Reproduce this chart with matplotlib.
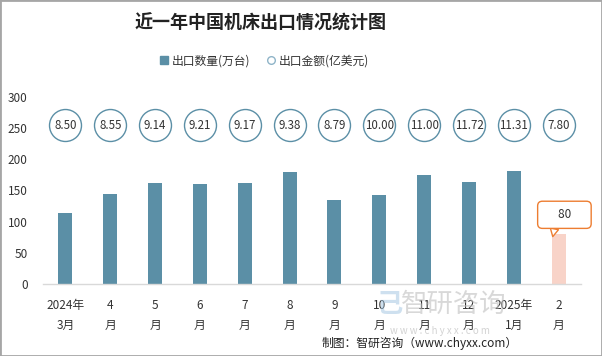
import matplotlib
matplotlib.use("Agg")
import matplotlib.pyplot as plt
import numpy as np

plt.rcParams['font.family'] = ['Noto Sans CJK SC', 'DejaVu Sans']

categories = ["2024年\n3月", "4\n月", "5\n月", "6\n月", "7\n月", "8\n月", "9\n月",
              "10\n月", "11\n月", "12\n月", "2025年\n1月", "2\n月"]
quantity = [114, 145, 162, 160, 162, 180, 135, 143, 175, 164, 181, 80]
amount = [8.50, 8.55, 9.14, 9.21, 9.17, 9.38, 8.79, 10.00, 11.00, 11.72, 11.31, 7.80]
yticks = [0, 50, 100, 150, 200, 250, 300]

BAR = '#5B8FA6'
PINK = '#F8D3C8'
ORANGE = '#ED7D31'
CIRC = '#5B8FA6'
TXT = '#333333'

fig = plt.figure(figsize=(6.02, 3.56), dpi=100)
ax = fig.add_axes([43/602, 1-284/356, 538/602, 187/356])

x = np.arange(len(categories))
colors = [BAR]*(len(x)-1) + [PINK]
ax.bar(x, quantity, width=0.31, color=colors, zorder=2)

circle_y = 255
ax.scatter(x, [circle_y]*len(x), s=530, facecolors='white', edgecolors=CIRC, linewidths=1.0, zorder=3)
for xi, v in zip(x, amount):
    ax.text(xi, circle_y, f"{v:.2f}", ha='center', va='center', fontsize=8.3, color=TXT, zorder=4)

# callout for last bar
ax.annotate("     80     ", xy=(10.87, quantity[-1] - 4), xytext=(11.13, 111),
            ha='center', va='center', fontsize=8.5, color=TXT,
            bbox=dict(boxstyle='round,pad=0.6,rounding_size=0.4', fc='white', ec=ORANGE, lw=1),
            arrowprops=dict(arrowstyle='wedge,tail_width=0.7', fc='white', ec=ORANGE, lw=1,
                            relpos=(0.3, 0.2), shrinkA=0, shrinkB=0),
            zorder=5, annotation_clip=False)

ax.set_xlim(-0.5, 11.5)
ax.set_ylim(0, 300)
ax.set_yticks(yticks)
ax.set_xticks(x)
ax.set_xticklabels(categories, fontsize=8.5, color=TXT, linespacing=1.65)
ax.tick_params(axis='y', length=0, pad=11, labelsize=8.5, labelcolor=TXT)
ax.tick_params(axis='x', length=0, pad=11)
for s in ['top', 'right', 'left']:
    ax.spines[s].set_visible(False)
ax.spines['bottom'].set_color('#D9D9D9')
ax.spines['bottom'].set_linewidth(1)

# title
fig.text(261/602, 1-23/356, "近一年中国机床出口情况统计图", ha='center', va='center',
         fontsize=13, fontweight='bold', color='#222222')

# legend
from matplotlib.lines import Line2D
h1 = Line2D([], [], marker='s', color='none', markerfacecolor=BAR, markeredgecolor=BAR, markersize=6)
h2 = Line2D([], [], marker='o', color='none', markerfacecolor='white', markeredgecolor='#8FB4C8', markersize=5.5)
fig.legend([h1, h2], ["出口数量(万台)", "出口金额(亿美元)"], loc='center',
           bbox_to_anchor=(264/602, 1-61/356), ncol=2, frameon=False, fontsize=8.5,
           handlelength=0.8, handletextpad=0.3, columnspacing=1.3, labelcolor=TXT)

# watermark
fig.text(506/602, 1-304/356, "智研咨询", ha='right', va='center', fontsize=19,
         color='#BFBFBF', alpha=0.6, zorder=0)
fig.text(390/602, 1-304/356, "己", ha='center', va='center', fontsize=19, fontweight='bold',
         color='#9EC3E0', alpha=0.5, zorder=0)
fig.text(440/602, 1-331/356, "w w w . c h y x x . c o m", ha='center', va='center', fontsize=7,
         color='#C8C8C8', alpha=0.8, zorder=0)

# footer
fig.text(518/602, 1-343/356, "制图：智研咨询（www.chyxx.com）", ha='right', va='center',
         fontsize=8.5, color='#222222')

# border
fig.patches.append(matplotlib.patches.Rectangle((0, 0), 1, 1, transform=fig.transFigure,
                                                fill=False, ec='#A6A6A6', lw=2))

fig.savefig("out.png", dpi=100)
